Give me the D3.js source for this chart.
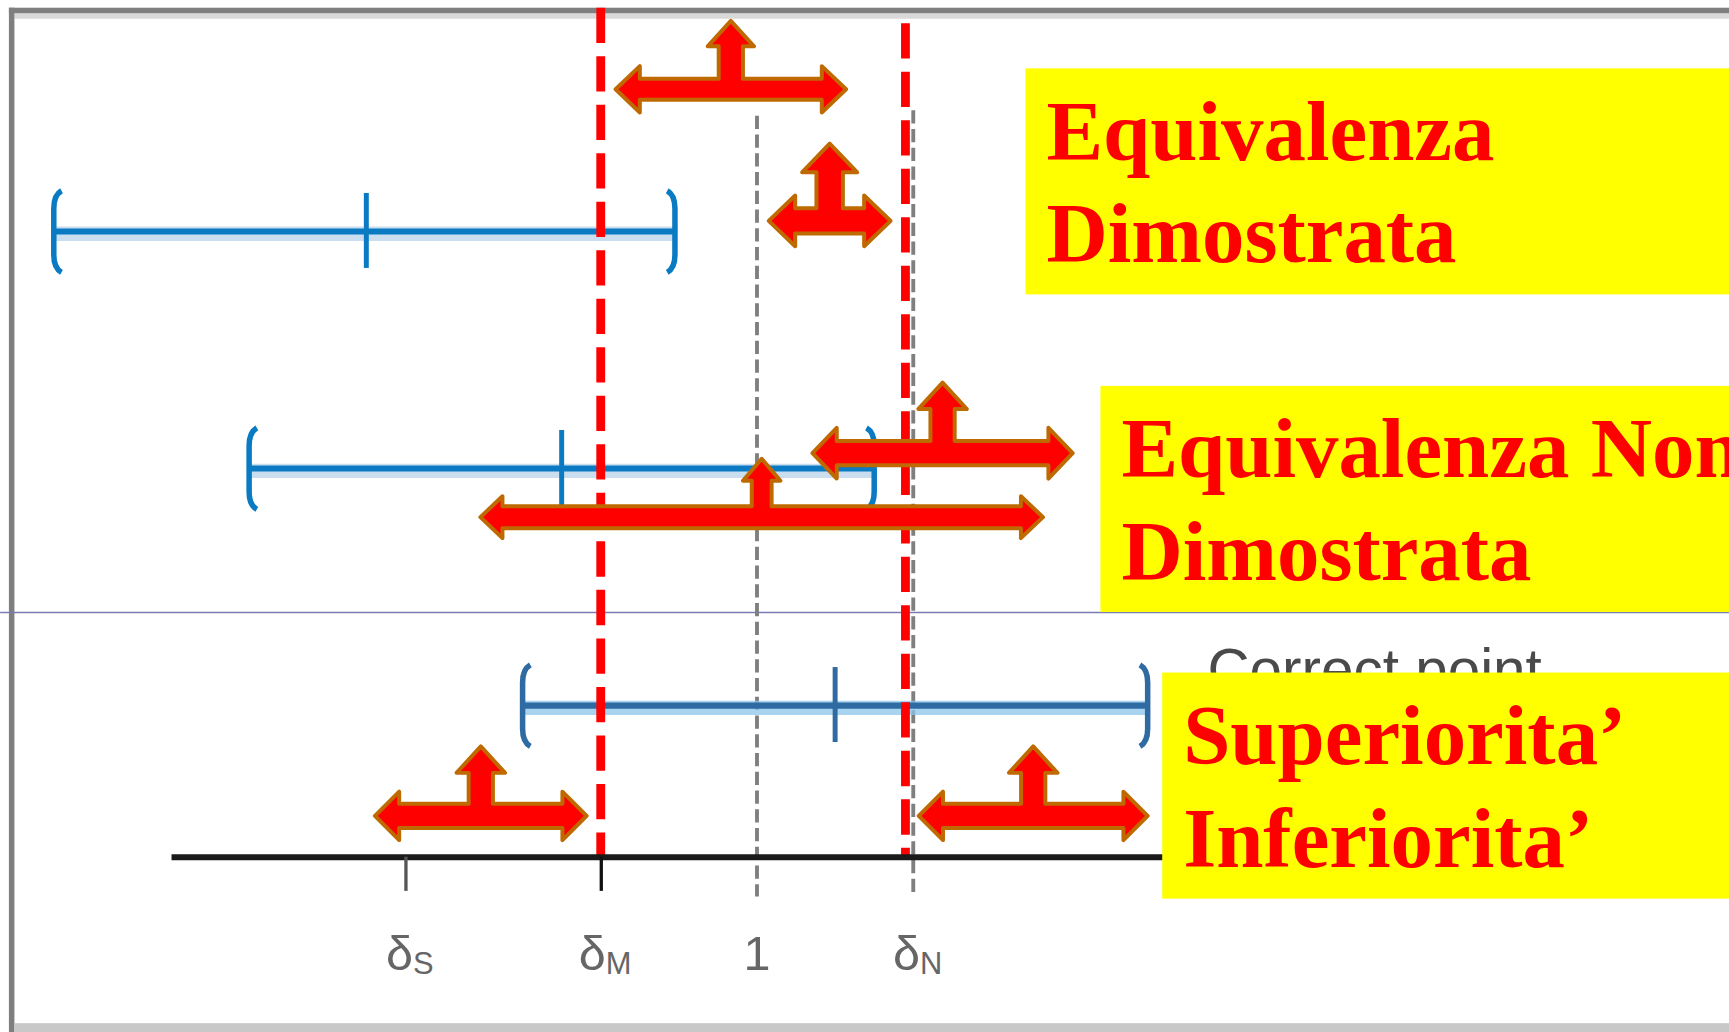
<!DOCTYPE html>
<html>
<head lang="it">
    <meta charset="UTF-8">
    <title></title>
    <script src="https://cdn.jsdelivr.net/npm/d3@7"></script>
    <style>
        body{margin:0;overflow:hidden;background:#fff;}
    </style>
</head>
<body>
<script>
    // asse: posizioni dei tick e etichette
    var tickValues=[0.55,0.8,1,1.2];
    var tickNames=["δ","δ","1","δ"];
    var tickSubs=["S","M","","N"];
    // intervalli di confidenza (inferiore, stima, superiore)
    var ciLower=[0.10,0.35,0.70];
    var ciPoint=[0.50,0.75,1.10];
    var ciUpper=[0.895,1.15,1.50];
    // margini (linee rosse) e riferimenti (linee grigie)
    var marginLines=[0.80,1.19];
    var refLines=[1.0,1.2];
    // frecce: estremo sinistro, destro, livello (in unita' di riga)
    var arrowFrom=[0.819,1.015,1.071,0.646,0.511,1.207];
    var arrowTo=[1.114,1.171,1.404,1.366,0.782,1.500];
    var arrowLevel=[-0.6,-0.045,0.935,1.205,2.465,2.465];
    // testi nei riquadri gialli
    var boxLines=[["Equivalenza","Dimostrata"],["Equivalenza Non","Dimostrata"],["Superiorita’","Inferiorita’"]];
    var hiddenLabel="Correct point";

    // dimensioni grafiche (non dati)
    var arrowSize=[
        {bar:19,head:42,headL:22,stem:22,upHead:42,upHeadL:23,rise:62},
        {bar:23,head:46,headL:24,stem:24,upHead:50,upHeadL:26,rise:70},
        {bar:22,head:46,headL:22,stem:22,upHead:44,upHeadL:24,rise:64},
        {bar:20,head:38,headL:20,stem:18,upHead:34,upHeadL:20,rise:53},
        {bar:22,head:44,headL:22,stem:22,upHead:44,upHeadL:24,rise:63},
        {bar:22,head:44,headL:22,stem:22,upHead:44,upHeadL:24,rise:63}
    ];
    var boxPos=[{x:930,y:62},{x:998,y:350},{x:1054,y:610}];

    var W=1568,H=936;
    var svg=d3.select("body").append("svg")
            .attr("width",1729).attr("height",1032)
            .attr("viewBox","0 0 "+W+" "+H);

    var x=d3.scaleLinear().domain([0.25,1.52]).range([155,1055]);
    var y=d3.scaleLinear().domain([0,2]).range([210,640]);
    var axisY=777;

    // cornice
    svg.append("rect").attr("x",0).attr("y",0).attr("width",W).attr("height",H).attr("fill","#fff");
    svg.append("rect").attr("x",13).attr("y",12).attr("width",W).attr("height",5).attr("fill","#d9d9d9");
    svg.append("rect").attr("x",8).attr("y",7).attr("width",W).attr("height",5).attr("fill","#7f7f7f");
    svg.append("rect").attr("x",8).attr("y",7).attr("width",5).attr("height",H).attr("fill","#7f7f7f");
    svg.append("rect").attr("x",13).attr("y",928).attr("width",W).attr("height",8).attr("fill","#c8c8c8");
    svg.append("line").attr("x1",0).attr("x2",W).attr("y1",555.5).attr("y2",555.5)
            .attr("stroke","#7c7cb4").attr("stroke-width",1.2);

    // testo parzialmente coperto
    svg.append("text").attr("x",1095).attr("y",626).text(hiddenLabel)
            .style("font-family","'Liberation Sans',Arial,sans-serif")
            .style("font-size","53px").style("fill","#4a4a4a");

    // linee grigie tratteggiate
    svg.selectAll("line.ref").data(refLines).enter().append("line")
            .attr("class","ref")
            .attr("x1",function(d){return x(d);}).attr("x2",function(d){return x(d);})
            .attr("y1",function(d,i){return i==0?105:100;}).attr("y2",813)
            .attr("stroke","#7f7f7f").attr("stroke-width",3.5)
            .attr("stroke-dasharray","12,5");

    // intervalli di confidenza
    var rows=d3.range(ciLower.length);
    var ciColor=["#0a7bc2","#0a7bc2","#2f6ba2"];
    var ci=svg.selectAll("g.ci").data(rows).enter().append("g").attr("class","ci");
    ci.append("line")
            .attr("x1",function(i){return x(ciLower[i]);}).attr("x2",function(i){return x(ciUpper[i]);})
            .attr("y1",function(i){return y(i)+2;}).attr("y2",function(i){return y(i)+2;})
            .attr("stroke",function(i){return i==2?"#8cc6ee":"#b9d3ec";}).attr("stroke-width",13).attr("opacity",0.75);
    ci.append("line")
            .attr("x1",function(i){return x(ciLower[i]);}).attr("x2",function(i){return x(ciUpper[i]);})
            .attr("y1",function(i){return y(i);}).attr("y2",function(i){return y(i);})
            .attr("stroke",function(i){return ciColor[i];}).attr("stroke-width",5.5);
    ci.append("line")
            .attr("x1",function(i){return x(ciPoint[i]);}).attr("x2",function(i){return x(ciPoint[i]);})
            .attr("y1",function(i){return y(i)-35;}).attr("y2",function(i){return y(i)+33;})
            .attr("stroke",function(i){return ciColor[i];}).attr("stroke-width",4.5);
    function bracket(xx,yy,dir){
        var t=yy-37,b=yy+37;
        return "M"+(xx+dir*7)+","+t+" Q"+xx+","+(t+4)+" "+xx+","+(t+16)+
               " L"+xx+","+(b-16)+" Q"+xx+","+(b-4)+" "+(xx+dir*7)+","+b;
    }
    ci.append("path").attr("d",function(i){return bracket(x(ciLower[i]),y(i),1);})
            .attr("fill","none").attr("stroke",function(i){return ciColor[i];}).attr("stroke-width",5);
    ci.append("path").attr("d",function(i){return bracket(x(ciUpper[i]),y(i),-1);})
            .attr("fill","none").attr("stroke",function(i){return ciColor[i];}).attr("stroke-width",5);

    // linee rosse dei margini
    svg.selectAll("line.margin").data(marginLines).enter().append("line")
            .attr("class","margin")
            .attr("x1",function(d){return x(d);}).attr("x2",function(d){return x(d);})
            .attr("y1",function(d,i){return i==0?7:21;}).attr("y2",axisY)
            .attr("stroke","#ff0000").attr("stroke-width",8)
            .attr("stroke-dasharray","32,12");

    // asse
    var axis=d3.axisBottom(x).tickValues(tickValues).tickSize(31).tickSizeOuter(0).tickFormat("");
    var gAxis=svg.append("g").attr("transform","translate(0,"+axisY+")").call(axis);
    gAxis.select(".domain").attr("stroke","#1a1a1a").attr("stroke-width",5.5);
    gAxis.selectAll(".tick line")
            .attr("stroke",function(d,i){return ["#555","#111","none","none"][i];})
            .attr("stroke-width",3);
    var lab=svg.selectAll("text.tl").data(tickValues).enter().append("text")
            .attr("class","tl")
            .attr("x",function(d,i){return x(d)+(tickSubs[i]?4:0);})
            .attr("y",880)
            .attr("text-anchor","middle")
            .style("font-family","'Liberation Sans',Arial,sans-serif")
            .style("fill","#666");
    lab.append("tspan").style("font-size","44px").text(function(d,i){return tickNames[i];});
    lab.append("tspan").style("font-size","28px").attr("dy",3).text(function(d,i){return tickSubs[i];});

    // frecce
    function lruArrow(x0,x1,cy,s){
        var cx=(x0+x1)/2,b=s.bar/2,h=s.head/2,st=s.stem/2,uh=s.upHead/2,tip=cy-s.rise;
        var p=[[x0,cy],[x0+s.headL,cy-h],[x0+s.headL,cy-b],[cx-st,cy-b],[cx-st,tip+s.upHeadL],
            [cx-uh,tip+s.upHeadL],[cx,tip],[cx+uh,tip+s.upHeadL],[cx+st,tip+s.upHeadL],[cx+st,cy-b],
            [x1-s.headL,cy-b],[x1-s.headL,cy-h],[x1,cy],[x1-s.headL,cy+h],[x1-s.headL,cy+b],
            [x0+s.headL,cy+b],[x0+s.headL,cy+h]];
        return d3.line()(p)+"Z";
    }
    svg.selectAll("path.arrow").data(arrowFrom).enter().append("path")
            .attr("class","arrow")
            .attr("d",function(d,i){return lruArrow(x(d),x(arrowTo[i]),y(arrowLevel[i]),arrowSize[i]);})
            .attr("fill","#ff0000").attr("stroke","#bf6a00").attr("stroke-width",3.6)
            .attr("stroke-linejoin","round");

    // riquadri gialli
    var box=svg.selectAll("g.box").data(boxLines).enter().append("g").attr("class","box");
    box.append("rect")
            .attr("x",function(d,i){return boxPos[i].x;}).attr("y",function(d,i){return boxPos[i].y;})
            .attr("width",800).attr("height",205).attr("fill","#ffff00");
    box.each(function(d,i){
        d3.select(this).selectAll("text").data(d).enter().append("text")
                .attr("x",boxPos[i].x+19)
                .attr("y",function(t,j){return boxPos[i].y+83+j*93;})
                .text(function(t){return t;})
                .style("font-family","'Liberation Serif','Times New Roman',serif")
                .style("font-weight","bold").style("font-size","77px").style("fill","#ff0000");
    });
</script>
</body>
</html>
